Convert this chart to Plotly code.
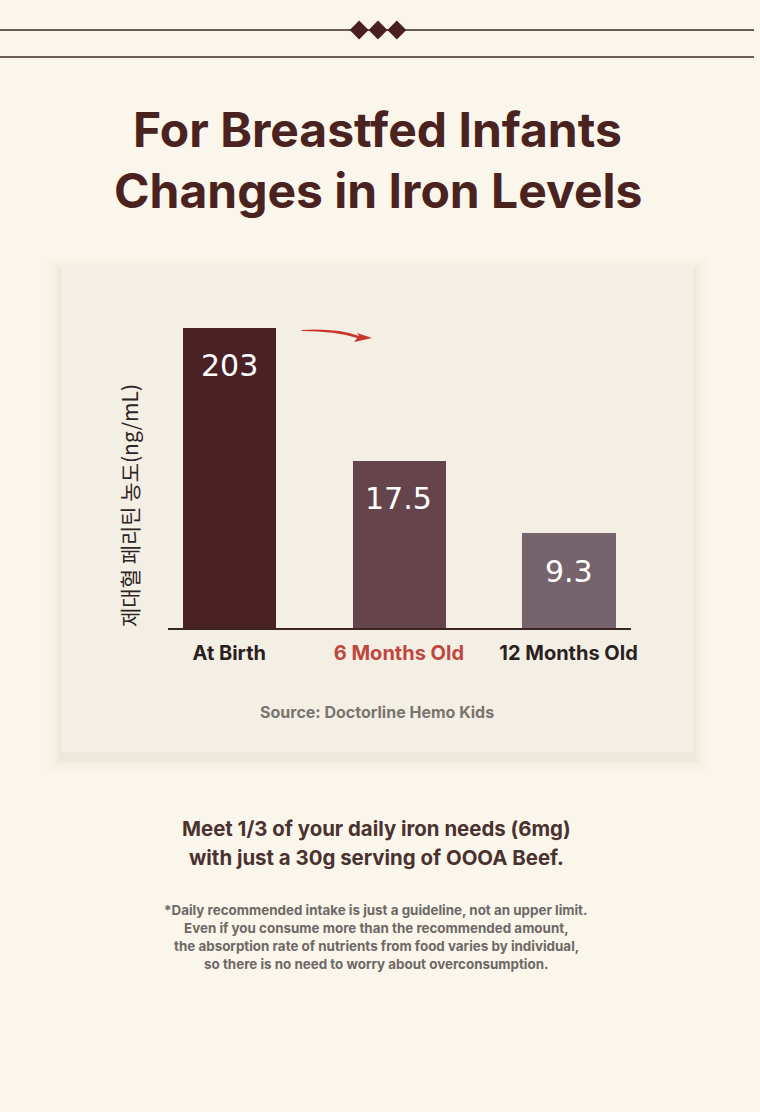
import plotly.graph_objects as go

W, H = 760, 1112

categories = ["At Birth", "6 Months Old", "12 Months Old"]
value_labels = ["203", "17.5", "9.3"]
# bar heights as drawn in the picture (the artwork is not to scale with the labels)
bar_heights = [300, 167, 95]
bar_colors = ["#4A2226", "#65454B", "#75646B"]
tick_colors = ["#2B1F1F", "#C0473F", "#2B1F1F"]

title_lines = ["For Breastfed Infants", "Changes in Iron Levels"]
y_title = "제대혈 페리틴 농도(ng/mL)"
source = "Source: Doctorline Hemo Kids"
headline = ["Meet 1/3 of your daily iron needs (6mg)",
            "with just a 30g serving of OOOA Beef."]
footnote = ["*Daily recommended intake is just a guideline, not an upper limit.",
            "Even if you consume more than the recommended amount,",
            "the absorption rate of nutrients from food varies by individual,",
            "so there is no need to worry about overconsumption."]

BG = "#FAF6EB"
CARD = "#F4EFE4"
DARK = "#4A2321"


def px(x):
    return x / W


def py(y):
    return 1 - y / H


def label(text, x, y, size, color, family="Inter", angle=0):
    return dict(text=text, xref="paper", yref="paper", x=x, y=y,
                xanchor="center", yanchor="middle", textangle=angle,
                showarrow=False, font=dict(family=family, size=size, color=color))


fig = go.Figure()
fig.add_trace(go.Bar(
    x=list(range(len(categories))), y=bar_heights, width=0.55,
    marker=dict(color=bar_colors, line_width=0),
    hoverinfo="skip", showlegend=False,
))

shapes = []
# soft card shadow + card
for d, op in [(14, 0.012), (10, 0.016), (6, 0.02), (3, 0.025)]:
    shapes.append(dict(type="rect", xref="paper", yref="paper",
                       x0=px(62 - d), x1=px(699 + d), y0=py(752 + d + 6), y1=py(265 - d + 6),
                       fillcolor=f"rgba(80,60,30,{op})", line_width=0, layer="below"))
shapes.append(dict(type="rect", xref="paper", yref="paper",
                   x0=px(62), x1=px(699), y0=py(752), y1=py(265),
                   fillcolor=CARD, line_width=0, layer="below"))
# top rules
for y in (30, 57):
    shapes.append(dict(type="line", xref="paper", yref="paper",
                       x0=0, x1=1, y0=py(y), y1=py(y),
                       line=dict(color="#3A2A28", width=1.5)))
# diamonds
for cx in (362, 381, 400):
    r = 9.5
    path = (f"M {px(cx - r)} {py(30)} L {px(cx)} {py(30 - r)} "
            f"L {px(cx + r)} {py(30)} L {px(cx)} {py(30 + r)} Z")
    shapes.append(dict(type="path", xref="paper", yref="paper", path=path,
                       fillcolor="#4A1F22", line_width=0))
# red swoosh arrow
swoosh = (f"M {px(304)} {py(330)} Q {px(340)} {py(328)} {px(362)} {py(336)} "
          f"L {px(360)} {py(333)} L {px(375)} {py(338)} L {px(357)} {py(342)} "
          f"L {px(360)} {py(338)} Q {px(338)} {py(331)} {px(304)} {py(331)} Z")
shapes.append(dict(type="path", xref="paper", yref="paper", path=swoosh,
                   fillcolor="#C8352C", line_width=0))

annotations = []
for i, line in enumerate(title_lines):
    annotations.append(label(f"<b>{line}</b>", px(381), py(130 + i * 60), 48, DARK))
for i, (lab, h) in enumerate(zip(value_labels, bar_heights)):
    annotations.append(dict(text=lab, x=i, y=h, xref="x", yref="y",
                            xanchor="center", yanchor="middle",
                            yshift=-38, showarrow=False,
                            font=dict(family="DejaVu Sans", size=30, color="white")))
annotations.append(label(y_title, px(130), py(505), 21, "#2E2424",
                         family="Noto Sans CJK KR", angle=-90))
annotations.append(label(f"<b>{source}</b>", px(380), py(712), 16, "#7A7470"))
for i, line in enumerate(headline):
    annotations.append(label(f"<b>{line}</b>", px(379), py(828 + i * 29), 20.4, "#4A3230"))
for i, line in enumerate(footnote):
    annotations.append(label(f"<b>{line}</b>", px(379), py(910 + i * 18), 13.4, "#6E6866"))

ticktext = [f'<span style="color:{c}"><b>{t}</b></span>'
            for t, c in zip(categories, tick_colors)]

fig.update_layout(
    width=W, height=H,
    margin=dict(l=0, r=0, t=0, b=0),
    paper_bgcolor=BG, plot_bgcolor="rgba(0,0,0,0)",
    shapes=shapes, annotations=annotations,
    xaxis=dict(domain=[px(169), px(636)], range=[-0.363, 2.368],
               tickvals=list(range(len(categories))), ticktext=ticktext,
               tickfont=dict(family="Inter", size=20, color="#2B1F1F"),
               ticklabelstandoff=6,
               showline=True, linecolor="#3B2525", linewidth=2,
               showgrid=False, zeroline=False, ticks="", fixedrange=True),
    yaxis=dict(domain=[py(628), py(328)], range=[0, 300], visible=False,
               fixedrange=True),
    bargap=0,
)

fig.write_html("out.html", config={"displayModeBar": False},
               post_script="document.body.style.margin='0';"
                           "document.body.style.overflow='hidden';")
